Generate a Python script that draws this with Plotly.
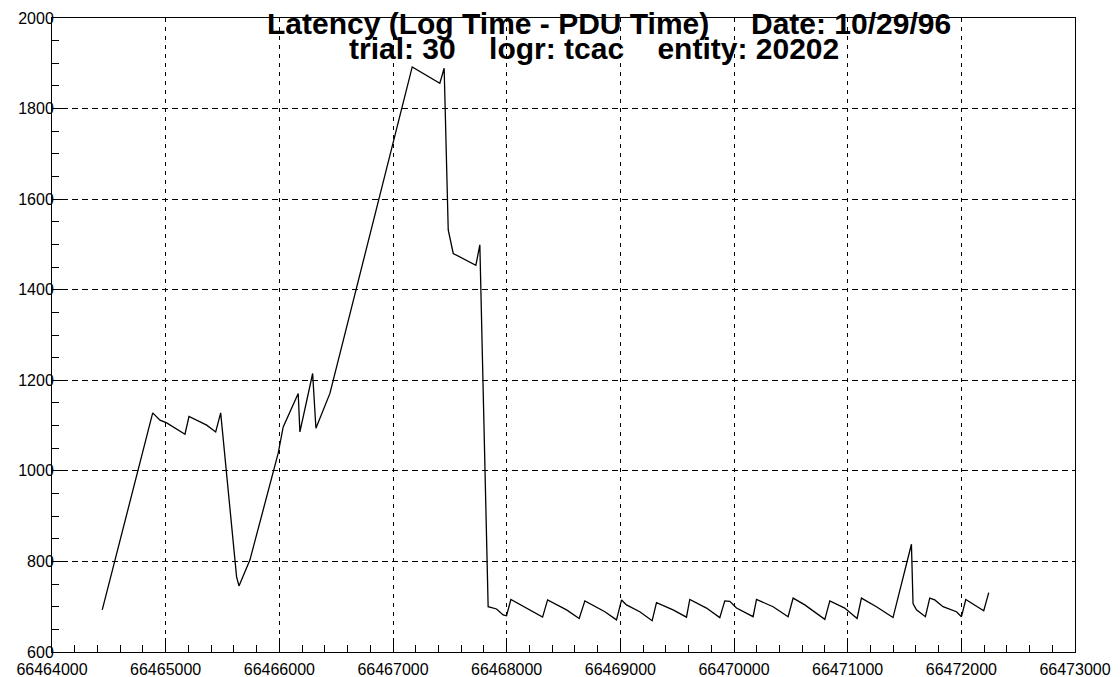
import plotly.graph_objects as go

# Log time (x) and latency (y)
log_time = [
    66464442, 66464886, 66464950, 66465009, 66465170, 66465205, 66465361, 66465440,
    66465484, 66465601, 66465624, 66465645, 66465741, 66465990, 66466034, 66466166,
    66466181, 66466293, 66466322, 66466445, 66467169, 66467412, 66467450, 66467486,
    66467530, 66467729, 66467764, 66467837, 66467911, 66467969, 66467999, 66468037,
    66468204, 66468316, 66468360, 66468527, 66468638, 66468688, 66468864, 66468966,
    66469011, 66469054, 66469171, 66469280, 66469318, 66469464, 66469582, 66469611,
    66469758, 66469875, 66469919, 66469963, 66470022, 66470110, 66470168, 66470198,
    66470344, 66470476, 66470520, 66470623, 66470799, 66470843, 66470974, 66471083,
    66471121, 66471253, 66471399, 66471561, 66471575, 66471605, 66471684, 66471722,
    66471766, 66471839, 66471957, 66472001, 66472039, 66472197, 66472241,
]
latency = [
    693, 1128, 1112, 1106, 1081, 1120, 1101, 1086,
    1128, 832, 766, 746, 803, 1039, 1097, 1171,
    1086, 1215, 1094, 1171, 1892, 1856, 1889, 1532,
    1480, 1454, 1499, 700, 695, 682, 680, 716,
    693, 677, 715, 693, 674, 713, 689, 671,
    715, 704, 689, 669, 709, 693, 677, 716,
    697, 676, 713, 712, 697, 685, 678, 716,
    700, 678, 719, 704, 672, 713, 697, 674,
    719, 700, 676, 838, 707, 693, 678, 719,
    715, 700, 689, 678, 716, 691, 731,
]

title_line1 = "Latency (Log Time - PDU Time)" + "\u00a0" * 5 + "Date: 10/29/96"
title_line2 = "trial: 30" + "\u00a0" * 4 + "logr: tcac" + "\u00a0" * 4 + "entity: 20202"

x_range = [66464000, 66473000]
y_range = [600, 2000]

fig = go.Figure()
fig.add_trace(go.Scatter(
    x=log_time, y=latency, mode="lines",
    line=dict(color="black", width=1.3),
    showlegend=False, hoverinfo="skip",
))

FONT = "Liberation Sans, Arial, Helvetica, sans-serif"
tickfont = dict(family=FONT, size=16, color="black")

fig.update_layout(
    width=1112, height=669,
    margin=dict(l=44, r=45, t=10, b=25),
    paper_bgcolor="white", plot_bgcolor="white",
    xaxis=dict(
        range=x_range, dtick=1000, tick0=66464000, tickformat="d",
        ticks="inside", ticklen=14, tickwidth=1, tickcolor="black",
        minor=dict(dtick=200, ticks="inside", ticklen=7, tickwidth=1, tickcolor="black", showgrid=False),
        showgrid=True, gridcolor="black", gridwidth=1, griddash="4px,5px",
        showline=True, linecolor="black", linewidth=1, mirror=True,
        zeroline=False, tickfont=tickfont, automargin=False,
        ticklabelstandoff=3,
    ),
    yaxis=dict(
        range=y_range, dtick=200, tick0=600,
        ticks="inside", ticklen=14, tickwidth=1, tickcolor="black",
        minor=dict(dtick=50, ticks="inside", ticklen=7, tickwidth=1, tickcolor="black", showgrid=False),
        showgrid=True, gridcolor="black", gridwidth=1, griddash="6px,4px",
        showline=True, linecolor="black", linewidth=1, mirror=True,
        zeroline=False, tickfont=tickfont, automargin=False,
        ticklabelstandoff=-6,
    ),
    annotations=[
        dict(text="<b>" + title_line1 + "</b>", xref="paper", yref="paper",
             x=(609 - 52) / 1023, y=(652 - 23.5) / 634, xanchor="center", yanchor="middle",
             showarrow=False,
             font=dict(family=FONT, size=30, color="black")),
        dict(text="<b>" + title_line2 + "</b>", xref="paper", yref="paper",
             x=(594 - 52) / 1023, y=(652 - 48) / 634, xanchor="center", yanchor="middle",
             showarrow=False,
             font=dict(family=FONT, size=30, color="black")),
    ],
)

fig.write_html("out.html")
